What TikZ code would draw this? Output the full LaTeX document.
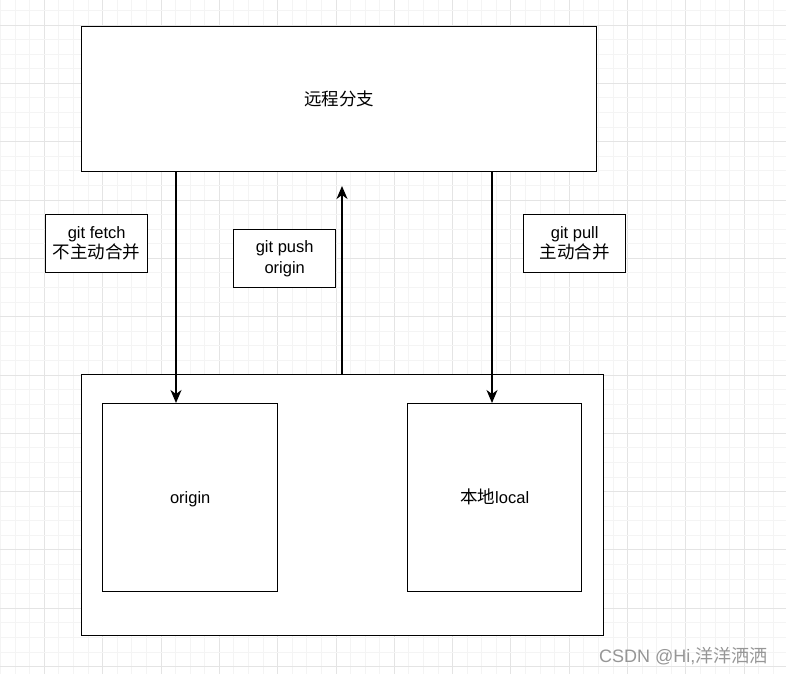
\documentclass[tikz,border=0pt]{standalone}
\usepackage{fontspec}
\setmainfont{Liberation Sans}
\newfontfamily\cjk{Noto Sans CJK SC}
\usetikzlibrary{arrows.meta}
\definecolor{minorgrid}{RGB}{244,244,244}
\definecolor{majorgrid}{RGB}{228,228,228}
\definecolor{wmark}{RGB}{150,150,150}
\tikzset{
  box/.style={draw=black, line width=1.4pt, fill=white, inner sep=0pt},
  lbl/.style={font=\fontsize{16.5}{20}\selectfont, align=center},
  conn/.style={line width=1.4pt, -{Stealth[length=13pt,width=11pt,inset=4pt]}}
}
\begin{document}
\begin{tikzpicture}[x=1pt,y=-1pt]
\useasboundingbox (0,0) rectangle (786,674);
\fill[white] (0,0) rectangle (786,674);
% grid
\foreach \i in {0,...,54}{
  \pgfmathsetmacro\xx{0.56+14.58*\i}
  \pgfmathtruncatemacro\m{mod(\i,4)}
  \ifnum\m=3 \draw[majorgrid,line width=0.8pt] (\xx,0) -- (\xx,674);
  \else \draw[minorgrid,line width=0.8pt] (\xx,0) -- (\xx,674); \fi
}
\foreach \i in {0,...,46}{
  \pgfmathsetmacro\yy{10.42+14.58*\i}
  \pgfmathtruncatemacro\m{mod(\i,4)}
  \ifnum\m=1 \draw[majorgrid,line width=0.8pt] (0,\yy) -- (786,\yy);
  \else \draw[minorgrid,line width=0.8pt] (0,\yy) -- (786,\yy); \fi
}
% boxes
\node[box, minimum width=515pt, minimum height=145pt, anchor=north west] (remote) at (81,26) {};
\node[lbl] at (remote.center) {\cjk\fontsize{17.5}{20}\selectfont 远程分支};
\node[box, minimum width=522pt, minimum height=261pt, anchor=north west] (outer) at (81,374) {};
\node[box, minimum width=175pt, minimum height=188pt, anchor=north west] (origin) at (102,403) {};
\node[lbl, anchor=base] at (origin.center |- 0,503) {origin};
\node[box, minimum width=174pt, minimum height=188pt, anchor=north west] (local) at (407,403) {};
\node[lbl, anchor=base] at (local.center |- 0,503) {{\cjk\fontsize{17.5}{20}\selectfont 本地}local};
% label boxes
\node[box, minimum width=102pt, minimum height=58pt, anchor=north west] (fetch) at (45,214) {};
\node[lbl] at (fetch.center) {git fetch\\[0pt]{\cjk\fontsize{17.5}{20}\selectfont 不主动合并}};
\node[box, minimum width=102pt, minimum height=58pt, anchor=north west] (push) at (233,229) {};
\node[lbl] at (push.center) {git push\\[1pt]origin};
\node[box, minimum width=102pt, minimum height=58pt, anchor=north west] (pull) at (523,214) {};
\node[lbl] at (pull.center) {git pull\\[0pt]{\cjk\fontsize{17.5}{20}\selectfont 主动合并}};
% connectors
\draw[conn] (remote.south -| 176,0) -- (origin.north -| 176,0);
\draw[conn] (remote.south -| 492,0) -- (local.north -| 492,0);
\coordinate (pushend) at (342,186);
\draw[conn] (outer.north -| pushend) -- (pushend);
% watermark
\node[anchor=base east, text=wmark, font=\fontsize{18}{20}\selectfont] (wm) at (771,662) {CSDN @Hi,{\cjk 洋洋洒洒}};
\end{tikzpicture}
\end{document}
